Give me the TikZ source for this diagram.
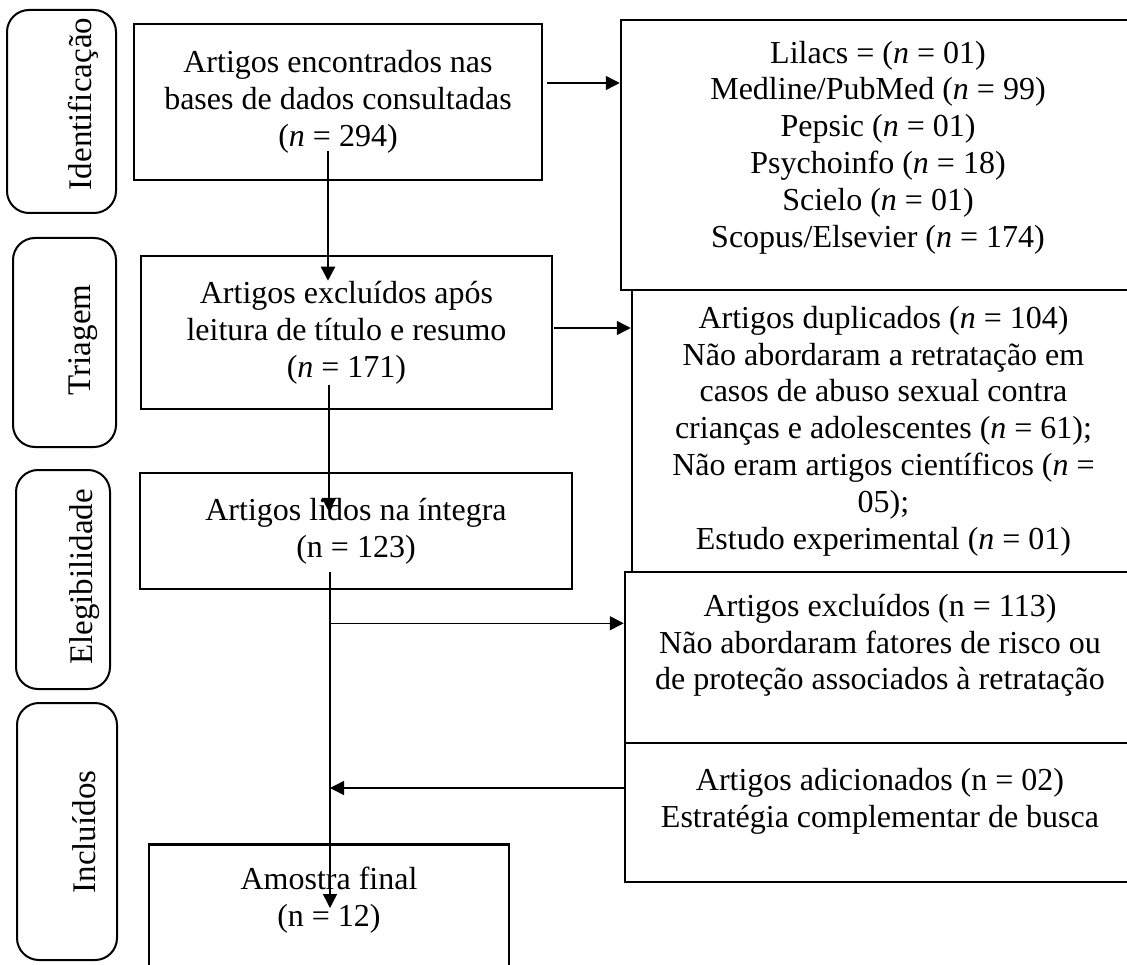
\documentclass[tikz,border=0pt]{standalone}
\usepackage{fontspec}
\setmainfont{Liberation Serif}
\usetikzlibrary{arrows.meta,calc}

\tikzset{
  box/.style={draw, line width=2.5pt, rectangle, inner sep=0pt, align=center,
    font=\fontsize{32}{36.8}\selectfont},
  stage/.style={draw, line width=2pt, rounded corners=22pt, inner sep=0pt},
  stagetext/.style={rotate=90, inner sep=0pt, font=\fontsize{33}{38}\selectfont},
  thinarrow/.style={line width=1.5pt, -{Triangle[length=14pt,width=14pt]}},
  thickarrow/.style={line width=2.5pt, -{Triangle[length=14pt,width=14pt]}}
}

\begin{document}
\begin{tikzpicture}[x=1pt,y=-1pt]
    \useasboundingbox (0,0) rectangle (1127,965);
    % etapas
    \node[stage, minimum width=109pt, minimum height=203pt] (ident) at (61.5,111.5) {};
    \node[stage, minimum width=103pt, minimum height=209pt] (triage) at (64.5,342.5) {};
    \node[stage, minimum width=94pt, minimum height=219pt] (elig) at (63,579.5) {};
    \node[stage, minimum width=100pt, minimum height=257pt] (incl) at (67,831.5) {};
    \node[stagetext] (identtxt) at (83,104) {Identificação};
    \node[stagetext] (triagetxt) at (83,340) {Triagem};
    \node[stagetext] (eligtxt) at (85,577) {Elegibilidade};
    \node[stagetext] (incltxt) at (84,832) {Incluídos};
    % coluna principal
    \node[box, minimum width=408pt, minimum height=156pt] (found) at (338,102)
        {Artigos encontrados nas\\bases de dados consultadas\\(\textit{n} = 294)};
    \node[box, minimum width=411pt, minimum height=153pt] (screen) at (346.5,332.5)
        {Artigos excluídos após\\leitura de título e resumo\\(\textit{n} = 171)};
    \node[box, minimum width=432pt, minimum height=116pt] (full) at (356,531)
        {Artigos lidos na íntegra\\(n = 123)};
    \node[box, anchor=north, minimum width=360pt, inner ysep=23pt, text depth=80pt] (final) at (329,843)
        {Amostra final\\(n = 12)};
    % coluna da direita
    \node[box, minimum width=514pt, minimum height=270pt, text depth=22pt] (db) at (878,155)
        {Lilacs = (\textit{n} = 01)\\Medline/PubMed (\textit{n} = 99)\\Pepsic (\textit{n} = 01)\\
         Psychoinfo (\textit{n} = 18)\\Scielo (\textit{n} = 01)\\Scopus/Elsevier (\textit{n} = 174)};
    \node[box, minimum width=503pt, minimum height=282pt] (dup) at (883.5,431)
        {Artigos duplicados (\textit{n} = 104)\\Não abordaram a retratação em\\casos de abuso sexual contra\\
         crianças e adolescentes (\textit{n} = 61);\\Não eram artigos científicos (\textit{n} =\\05);\\
         Estudo experimental (\textit{n} = 01)};
    \node[box, minimum width=510pt, minimum height=171pt, text depth=31pt] (excl) at (880,657.5)
        {Artigos excluídos (n = 113)\\Não abordaram fatores de risco ou\\de proteção associados à retratação};
    \node[box, minimum width=510pt, minimum height=139pt, text depth=30pt] (added) at (880,812.5)
        {Artigos adicionados (n = 02)\\Estratégia complementar de busca};
    % setas
    \coordinate (s1) at ([xshift=4pt,yshift=19pt]found.east);
    \draw[thinarrow] (s1) -- (s1 -| db.west);
    \coordinate (s2) at ([xshift=-10pt,yshift=30pt]found.south);
    \coordinate (e2) at ([xshift=-18.5pt,yshift=-26pt]screen.north);
    \draw[thickarrow] (s2) -- (e2);
    \coordinate (s3) at ([xshift=1pt,yshift=4.5pt]screen.east);
    \draw[thinarrow] (s3) -- (s3 -| dup.west);
    \coordinate (s4) at ([xshift=-17.5pt,yshift=25pt]screen.south);
    \coordinate (e4) at ([xshift=-27pt,yshift=-40pt]full.north);
    \draw[thickarrow] (s4) -- (e4);
    \coordinate (s5) at ([xshift=-26pt,yshift=18pt]full.south);
    \coordinate (e5) at ([yshift=-65pt]s5 |- final.north);
    \draw[thinarrow] (s5) -- (e5);
    \coordinate (b5) at ([yshift=-51pt]s5);
    \draw[thinarrow] (b5) -- (b5 -| excl.west);
    \coordinate (s6) at ([yshift=24.5pt]added.west);
    \draw[thinarrow] (s6) -- (s6 -| s5);
\end{tikzpicture}
\end{document}
